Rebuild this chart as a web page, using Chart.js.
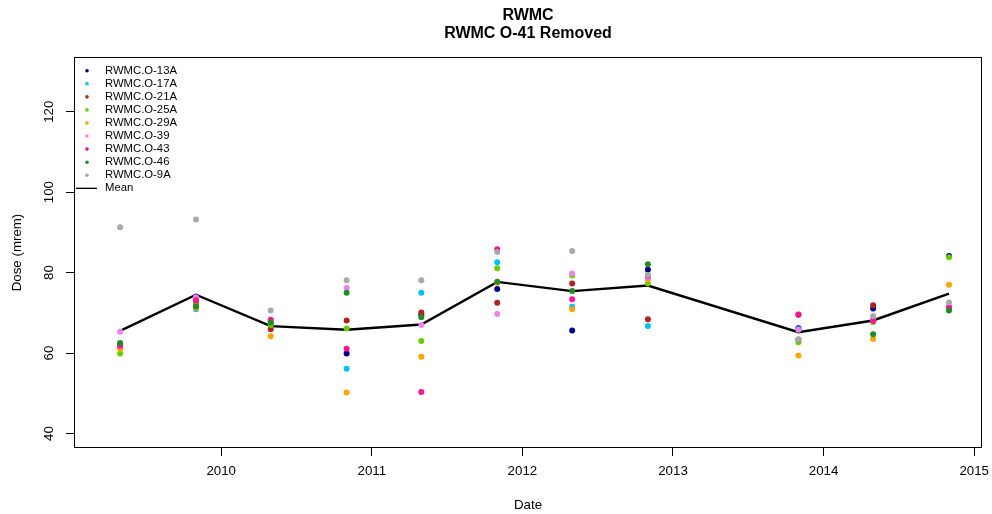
<!DOCTYPE html>
<html>
<head>
<meta charset="utf-8">
<title>RWMC dose</title>
<script src="https://cdn.jsdelivr.net/npm/chart.js@4.4.1/dist/chart.umd.min.js"></script>
<style>
  html, body { margin: 0; padding: 0; background: #ffffff; }
  canvas { display: block; }
</style>
</head>
<body>
<canvas id="doseChart" width="992" height="514"></canvas>
<script>
// Sampling dates (semiannual dosimeter exchanges)
const sampleDates = ['2009-05-01', '2009-11-01', '2010-05-01', '2010-11-01', '2011-05-01', '2011-11-01',
                     '2012-05-01', '2012-11-01', '2013-11-01', '2014-05-01', '2014-11-01'];

// Station names
const stations = ['RWMC.O-13A', 'RWMC.O-17A', 'RWMC.O-21A', 'RWMC.O-25A', 'RWMC.O-29A',
                  'RWMC.O-39', 'RWMC.O-43', 'RWMC.O-46', 'RWMC.O-9A'];

// Dose (mrem) per station, one value per sampling date
const doseO13A = [62.0, 74.0, 66.9, 59.9, 69.5, 75.9, 65.6, 80.7, 66.2, 71.1, 84.1];
const doseO17A = [61.5, 70.9, 67.2, 56.1, 75.0, 82.6, 71.5, 66.7, 65.9, 68.0, 71.0];
const doseO21A = [62.2, 72.5, 65.9, 68.1, 70.1, 72.5, 77.3, 68.4, 69.5, 71.9, 71.2];
const doseO25A = [59.9, 72.0, 67.0, 66.1, 63.0, 81.1, 79.3, 77.3, 62.7, 67.7, 83.8];
const doseO29A = [61.0, 71.2, 64.2, 50.2, 59.1, 77.5, 70.9, 78.3, 59.4, 63.5, 77.0];
const doseO39  = [65.3, 73.9, 68.0, 76.2, 67.0, 69.7, 79.8, 78.8, 65.8, 68.8, 71.5];
const doseO43  = [61.8, 73.1, 68.3, 61.1, 50.3, 85.8, 73.4, 79.2, 69.6, 68.0, 71.4];
const doseO46  = [62.5, 71.6, 67.6, 75.0, 68.9, 77.7, 75.4, 82.1, 63.4, 64.7, 70.6];
const doseO9A  = [91.3, 93.2, 70.6, 78.1, 78.1, 85.1, 85.4, 79.4, 63.4, 69.2, 72.6];

// Mean dose across stations at each date
const meanDose = [65.5, 74.5, 66.7, 65.8, 67.1, 77.7, 75.4, 76.8, 65.2, 68.1, 74.8];

// Axis tick labels
const yearTicks = [2010, 2011, 2012, 2013, 2014, 2015];
const doseTicks = [40, 60, 80, 100, 120];

const stationDoses = [doseO13A, doseO17A, doseO21A, doseO25A, doseO29A, doseO39, doseO43, doseO46, doseO9A];
const stationColors = ['#00008B', '#00BFFF', '#B22222', '#66CD00', '#FFA500',
                       '#EE82EE', '#FF1493', '#228B22', '#A9A9A9'];

const FONT = "'Liberation Sans', Arial, Helvetica, sans-serif";

// Convert an ISO date to a decimal year for the linear time axis
function decimalYear(iso) {
  const [y, m, d] = iso.split('-').map(Number);
  const start = Date.UTC(y, 0, 1);
  const end = Date.UTC(y + 1, 0, 1);
  return y + (Date.UTC(y, m - 1, d) - start) / (end - start);
}
const xYears = sampleDates.map(decimalYear);
const toPoints = vals => vals.map((v, i) => ({ x: xYears[i], y: v }));

const n = stations.length;
const datasets = stations.map((name, i) => ({
  label: name,
  data: toPoints(stationDoses[i]),
  showLine: false,
  pointRadius: 3,
  pointHoverRadius: 3,
  pointBorderWidth: 0,
  pointBackgroundColor: stationColors[i],
  backgroundColor: stationColors[i],
  borderColor: stationColors[i],
  order: n - i            // later stations are painted on top
}));
datasets.push({
  label: 'Mean',
  data: toPoints(meanDose),
  showLine: true,
  borderColor: '#000000',
  borderWidth: 2.4,
  pointRadius: 0,
  tension: 0,
  order: n + 1            // line sits underneath the station points
});

// Frame around the plotting region plus the in-plot legend
const framePlugin = {
  id: 'frameAndLegend',
  afterDraw(chart) {
    const { ctx, chartArea: a } = chart;
    ctx.save();
    ctx.strokeStyle = '#000';
    ctx.lineWidth = 1;
    ctx.strokeRect(a.left + 0.5, a.top + 0.5, a.right - a.left - 1, a.bottom - a.top - 1);

    // legend
    const rowStep = 13.07;
    let y = 70.7;
    ctx.font = '11.3px ' + FONT;
    ctx.textBaseline = 'middle';
    ctx.textAlign = 'left';
    stations.forEach((name, i) => {
      ctx.fillStyle = stationColors[i];
      ctx.beginPath();
      ctx.arc(87, y, 1.8, 0, Math.PI * 2);
      ctx.fill();
      ctx.fillStyle = '#000';
      ctx.fillText(name, 105, y);
      y += rowStep;
    });
    ctx.strokeStyle = '#000';
    ctx.lineWidth = 1.3;
    ctx.beginPath();
    ctx.moveTo(76, y);
    ctx.lineTo(97, y);
    ctx.stroke();
    ctx.fillStyle = '#000';
    ctx.fillText('Mean', 105, y);
    ctx.restore();
  }
};

new Chart(document.getElementById('doseChart'), {
  type: 'scatter',
  data: { datasets },
  options: {
    responsive: false,
    animation: false,
    devicePixelRatio: 1,
    layout: { padding: { top: 0, right: 10, bottom: 0, left: 0 } },
    plugins: {
      legend: { display: false },
      tooltip: { enabled: false },
      title: {
        display: true,
        fullSize: false,
        text: ['RWMC', 'RWMC O-41 Removed'],
        color: '#000',
        font: { family: FONT, size: 16, weight: 'bold', lineHeight: 1.125 },
        padding: { top: 7, bottom: 14 }
      }
    },
    scales: {
      x: {
        type: 'linear',
        min: 2009.0226,
        max: 2015.0518,
        afterBuildTicks: s => { s.ticks = yearTicks.map(v => ({ value: v })); },
        afterFit: s => { s.height = 66; s.paddingLeft = 0; s.paddingRight = 0; },
        grid: { drawOnChartArea: false, drawTicks: true, tickLength: 8, color: '#000', tickColor: '#000' },
        border: { display: false },
        ticks: {
          autoSkip: false, maxRotation: 0, padding: 7.3, color: '#000',
          font: { family: FONT, size: 13.3 },
          callback: v => String(v)
        },
        title: {
          display: true, text: 'Date', color: '#000',
          font: { family: FONT, size: 13.3 },
          padding: { top: 0, bottom: 1 }
        }
      },
      y: {
        type: 'linear',
        min: 36.4,
        max: 133.6,
        afterBuildTicks: s => { s.ticks = doseTicks.map(v => ({ value: v })); },
        afterFit: s => { s.width = 74; s.paddingTop = 0; s.paddingBottom = 0; },
        grid: { drawOnChartArea: false, drawTicks: true, tickLength: 8, color: '#000', tickColor: '#000' },
        border: { display: false },
        ticks: {
          autoSkip: false, minRotation: 90, maxRotation: 90, crossAlign: 'center',
          padding: 5.6, color: '#000',
          font: { family: FONT, size: 13.3 },
          callback: v => String(v)
        },
        title: {
          display: true, text: 'Dose (mrem)', color: '#000',
          font: { family: FONT, size: 13.3 },
          padding: { top: 9.3, bottom: 0 }
        }
      }
    }
  },
  plugins: [framePlugin]
});
</script>
</body>
</html>
